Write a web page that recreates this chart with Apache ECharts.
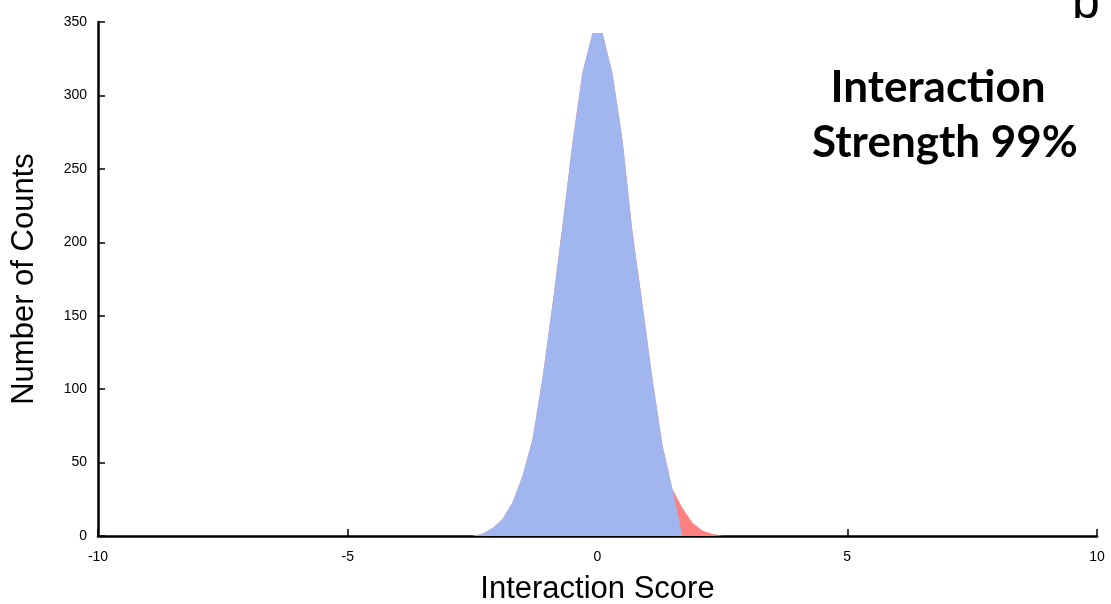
<!DOCTYPE html>
<html>
<head>
<meta charset="utf-8">
<script src="https://cdn.jsdelivr.net/npm/echarts@6/dist/echarts.min.js"></script>
<style>
  html, body { margin: 0; padding: 0; background: #fff; }
  #chart { width: 1111px; height: 604px; }
</style>
</head>
<body>
<div id="chart"></div>
<script>
// Histogram of interaction scores (bin centres and counts)
const scoreBins = [-2.5, -2.3, -2.1, -1.9, -1.7, -1.5, -1.3, -1.1, -0.9, -0.7, -0.5, -0.3, -0.1,
                   0.1, 0.3, 0.5, 0.7, 0.9, 1.1, 1.3, 1.5, 1.7, 1.9, 2.1, 2.3, 2.5];
const counts = [0, 1.5, 5.5, 11.5, 23, 41, 66, 108, 158, 212, 268, 316, 342.5,
                342.5, 315, 270, 207, 158, 107, 62, 32, 19, 9, 3.8, 1.4, 0.3];
// Scores above this threshold form the highlighted upper tail
const tailCutoff = 1.5;

const xTicks = [-10, -5, 0, 5, 10];
const yTicks = [0, 50, 100, 150, 200, 250, 300, 350];

const fullData = scoreBins.map((s, i) => [s, counts[i]]);
const bodyData = scoreBins.map((s, i) => [s, s <= tailCutoff ? counts[i] : 0]);

const chart = echarts.init(document.getElementById('chart'));
const axisFont = 'Liberation Sans, Arial, Helvetica, sans-serif';
const titleFont = 'Lato, Open Sans, sans-serif';

chart.setOption({
  animation: false,
  grid: { left: 98, right: 14, top: 22, bottom: 68, outerBoundsMode: 'none', containLabel: false },
  graphic: [
    {
      type: 'text', x: 938, y: 88,
      style: { text: 'Interaction', font: 'bold 44px ' + titleFont, fill: '#000',
               textAlign: 'center', textVerticalAlign: 'middle' }
    },
    {
      type: 'text', x: 945, y: 143,
      style: { text: 'Strength 99%', font: 'bold 44px ' + titleFont, fill: '#000',
               textAlign: 'center', textVerticalAlign: 'middle' }
    },
    {
      type: 'text', x: 1072, y: 4,
      style: { text: 'b', font: '50px ' + axisFont, fill: '#000',
               textAlign: 'left', textVerticalAlign: 'middle' }
    }
  ],
  xAxis: {
    type: 'value',
    min: xTicks[0], max: xTicks[xTicks.length - 1], interval: 5,
    name: 'Interaction Score',
    nameLocation: 'middle',
    nameGap: 38,
    nameTextStyle: { fontFamily: axisFont, fontSize: 31, color: '#000' },
    axisLine: { show: true, onZero: false, lineStyle: { color: '#000', width: 2.5 } },
    axisTick: { show: true, inside: true, length: 7, lineStyle: { color: '#000', width: 1.5 } },
    axisLabel: { fontFamily: axisFont, fontSize: 14, color: '#000', margin: 14,
                 customValues: xTicks },
    splitLine: { show: false }
  },
  yAxis: {
    type: 'value',
    min: yTicks[0], max: yTicks[yTicks.length - 1], interval: 50,
    name: 'Number of Counts',
    nameLocation: 'middle',
    nameGap: 58,
    nameTextStyle: { fontFamily: axisFont, fontSize: 31, color: '#000' },
    axisLine: { show: true, onZero: false, lineStyle: { color: '#000', width: 2.5 } },
    axisTick: { show: true, inside: true, length: 7, lineStyle: { color: '#000', width: 1.5 } },
    axisLabel: { fontFamily: axisFont, fontSize: 14, color: '#000', margin: 11 },
    splitLine: { show: false }
  },
  series: [
    {
      name: 'tail',
      type: 'line',
      data: fullData,
      showSymbol: false,
      lineStyle: { width: 0 },
      areaStyle: { color: 'rgb(255,128,128)', opacity: 1 },
      z: 1
    },
    {
      name: 'body',
      type: 'line',
      data: bodyData,
      showSymbol: false,
      lineStyle: { width: 0 },
      areaStyle: { color: 'rgb(161,181,238)', opacity: 1 },
      z: 2
    }
  ]
});
</script>
</body>
</html>
